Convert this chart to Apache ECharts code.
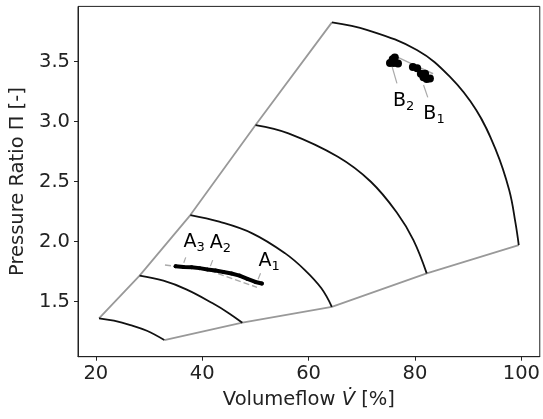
<!DOCTYPE html>
<html>
<head>
<meta charset="utf-8">
<script src="https://cdn.jsdelivr.net/npm/echarts@6/dist/echarts.min.js"></script>
<style>
  html, body { margin: 0; padding: 0; background: #fff; }
  #chart { width: 543px; height: 419px; }
</style>
</head>
<body>
<div id="chart"></div>
<script>
// map boundaries
var surgeLine = [[20.6, 1.362], [28.23, 1.717], [37.77, 2.222], [50.03, 2.972], [64.38, 3.828]];
var chokeLine = [[32.87, 1.181], [47.54, 1.325], [64.36, 1.458], [82.2, 1.736], [99.5, 1.972]];

// speed lines
var speedLines = [
    [[20.6, 1.362], [23.4, 1.342], [26.5, 1.306], [29.6, 1.258], [32.87, 1.181]],
    [[28.23, 1.717], [32.7, 1.675], [37.0, 1.603], [41.97, 1.487], [45.07, 1.403], [47.54, 1.325]],
    [[37.77, 2.222], [43.2, 2.167], [49.4, 2.07], [55.6, 1.903], [59.3, 1.764], [62.4, 1.612], [64.36, 1.458]],
    [[50.03, 2.972], [56.2, 2.903], [65.5, 2.708], [71.7, 2.5], [76.7, 2.236], [79.7, 2.014], [82.2, 1.736]],
    [[64.38, 3.828], [71.07, 3.764], [80.35, 3.597], [86.54, 3.375], [91.5, 3.097], [95.2, 2.764], [97.7, 2.431], [98.9, 2.153], [99.5, 1.972]]
];

// operating points A
var pathA = [[33.0, 1.806], [41.0, 1.765], [50.3, 1.62]];
var pointsA = [[35.0, 1.795], [36.5, 1.79], [38.0, 1.788], [39.5, 1.78], [41.0, 1.768], [42.5, 1.76],
    [44.0, 1.748], [45.5, 1.735], [47.0, 1.718], [48.5, 1.69], [50.0, 1.665], [51.2, 1.652]];

// operating points B
var pathB = [[76.6, 3.54], [80.0, 3.47], [83.4, 3.40]];
var pointsB = [[75.3, 3.49], [76.0, 3.49], [76.8, 3.485], [76.2, 3.535], [75.8, 3.52],
    [79.6, 3.455], [80.4, 3.445], [81.1, 3.40], [81.6, 3.37], [82.2, 3.355], [82.8, 3.36], [81.9, 3.40]];

// annotations
var labelNames = ['A3', 'A2', 'A1', 'B2', 'B1'];
var labelPos = [[38.48, 1.995], [43.43, 1.99], [52.56, 1.84], [77.88, 3.17], [83.57, 3.06]];
var leaderLines = [
    [[36.9, 1.87], [36.53, 1.825]],
    [[41.97, 1.847], [41.54, 1.797]],
    [[50.96, 1.737], [50.51, 1.687]],
    [[75.7, 3.458], [76.6, 3.32]],
    [[81.6, 3.306], [82.4, 3.203]]
];

var xTicks = [20, 40, 60, 80, 100];
var yTicks = [1.5, 2.0, 2.5, 3.0, 3.5];

var font = 'DejaVu Sans';
var fs = 19.5;
var gray = '#999999';

var series = [];
series.push({ type: 'line', data: surgeLine, symbol: 'none', lineStyle: { color: gray, width: 1.8 }, z: 2 });
series.push({ type: 'line', data: chokeLine, symbol: 'none', lineStyle: { color: gray, width: 1.8 }, z: 2 });
speedLines.forEach(function (s) {
    series.push({ type: 'line', data: s, symbol: 'none', smooth: 0.4, lineStyle: { color: '#111', width: 1.8 }, z: 3 });
});
leaderLines.forEach(function (s) {
    series.push({ type: 'line', data: s, symbol: 'none', lineStyle: { color: '#aaa', width: 1.2 }, z: 2 });
});
series.push({ type: 'line', data: pathA, symbol: 'none', lineStyle: { color: '#aaa', width: 1.5, type: [6, 3] }, z: 2 });
series.push({ type: 'line', data: pointsA, symbol: 'circle', symbolSize: 4, itemStyle: { color: '#000', opacity: 1 },
    lineStyle: { color: '#000', width: 4, cap: 'round' }, z: 4 });
series.push({ type: 'line', data: pathB, symbol: 'none', lineStyle: { color: '#aaa', width: 1.5 }, z: 2 });
series.push({ type: 'scatter', data: pointsB, symbol: 'circle', symbolSize: 8, itemStyle: { color: '#000', opacity: 1 }, z: 4 });
series.push({
    type: 'scatter',
    data: labelPos.map(function (p, i) { return { value: p, name: labelNames[i] }; }),
    symbolSize: 1,
    itemStyle: { color: 'rgba(0,0,0,0)' },
    label: {
        show: true,
        position: 'inside',
        color: '#000',
        opacity: 1,
        formatter: function (p) { return '{b|' + p.name.charAt(0) + '}{s|' + p.name.charAt(1) + '}'; },
        rich: {
            b: { fontFamily: font, fontSize: 19, color: '#000', lineHeight: 24 },
            s: { fontFamily: font, fontSize: 13, color: '#000', lineHeight: 24, verticalAlign: 'bottom', padding: [9, 0, 0, 0] }
        }
    },
    z: 5
});

var chart = echarts.init(document.getElementById('chart'));
chart.setOption({
    animation: false,
    grid: { left: 77.3, right: -1.6, top: 6.4, bottom: 62.3, show: true, borderColor: '#222', borderWidth: 1 },
    xAxis: {
        type: 'value', min: 16.65, max: 103.45,
        name: '{n|Volumeflow }{i|V̇}{n| [%]}', nameLocation: 'middle', nameGap: 33,
        nameTextStyle: { rich: { n: { fontFamily: font, fontSize: fs, color: '#222' }, i: { fontFamily: font, fontSize: fs, fontStyle: 'italic', color: '#222' } } },
        axisLine: { onZero: false, lineStyle: { color: '#222', width: 1 } },
        axisTick: { show: true, length: 4, inside: false, customValues: xTicks, lineStyle: { color: '#222' } },
        axisLabel: { customValues: xTicks, fontFamily: font, fontSize: fs, color: '#222', margin: 7 },
        splitLine: { show: false }
    },
    yAxis: {
        type: 'value', min: 1.042, max: 3.961,
        name: 'Pressure Ratio Π [-]', nameLocation: 'middle', nameGap: 50,
        nameTextStyle: { fontFamily: font, fontSize: fs, color: '#222' },
        axisLine: { onZero: false, lineStyle: { color: '#222', width: 1 } },
        axisTick: { show: true, length: 4, customValues: yTicks, lineStyle: { color: '#222' } },
        axisLabel: { customValues: yTicks, fontFamily: font, fontSize: fs, color: '#222', margin: 8,
            formatter: function (v) { return v.toFixed(1); } },
        splitLine: { show: false }
    },
    series: series
});
</script>
</body>
</html>
